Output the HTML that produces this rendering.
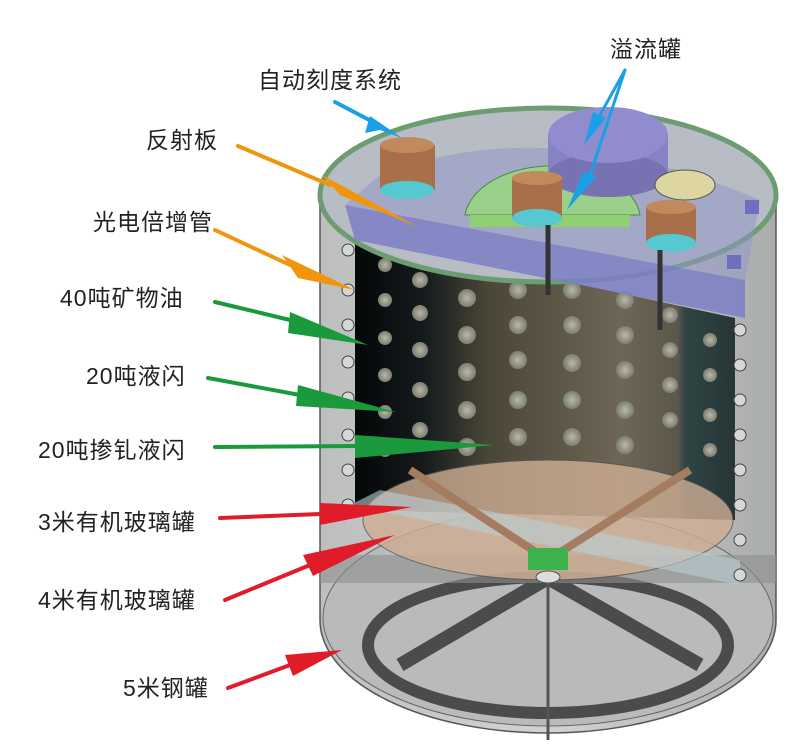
<!DOCTYPE html>
<html><head><meta charset="utf-8"><style>
body{margin:0;background:#fff}
svg{display:block}
text{font-family:"Liberation Sans","Noto Sans CJK SC",sans-serif;font-size:23px;letter-spacing:1px;fill:#222}
</style></head><body>
<svg width="807" height="754" viewBox="0 0 807 754" xmlns="http://www.w3.org/2000/svg">
<defs>
<linearGradient id="wall" x1="0" x2="1"><stop offset="0" stop-color="#bdbfbe"/><stop offset="0.5" stop-color="#d2d3d2"/><stop offset="1" stop-color="#a9acab"/></linearGradient>
<linearGradient id="inner" x1="0" x2="1"><stop offset="0" stop-color="#050708"/><stop offset="0.18" stop-color="#141a1c"/><stop offset="0.35" stop-color="#4a4638"/><stop offset="0.7" stop-color="#6e6656"/><stop offset="0.85" stop-color="#5b574a"/><stop offset="0.87" stop-color="#2f4444"/><stop offset="1" stop-color="#263535"/></linearGradient>
<radialGradient id="dot"><stop offset="0" stop-color="#b9b9a8"/><stop offset="1" stop-color="#7d7d70"/></radialGradient>
</defs>
<path d="M320,195 L320,620 A228,113 0 0 0 776,620 L776,195 Z" fill="url(#wall)" stroke="#555" stroke-width="1.5"/>
<ellipse cx="548" cy="618" rx="225" ry="108" fill="#b9bbba" stroke="#666"/>
<ellipse cx="548" cy="645" rx="180" ry="68" fill="none" stroke="#4a4c4c" stroke-width="12"/>
<g stroke="#4a4c4c" stroke-width="14">
<line x1="548" y1="578" x2="400" y2="665"/><line x1="548" y1="578" x2="700" y2="665"/>
</g>
<rect x="320" y="555" width="456" height="28" fill="#8e9090" opacity="0.6"/>
<line x1="548" y1="578" x2="548" y2="740" stroke="#555" stroke-width="3"/>
<path d="M355,235 L735,318 L735,520 L355,510 Z" fill="url(#inner)"/>
<ellipse cx="548" cy="520" rx="185" ry="60" fill="#cfae94" opacity="0.8" stroke="#555"/>
<path d="M350,505 L740,585 L740,560 L380,490 Z" fill="#b9cfd6" opacity="0.6"/>
<path d="M410,470 L548,560 L690,470" fill="none" stroke="#a57c60" stroke-width="8"/>
<rect x="528" y="548" width="40" height="22" fill="#3cb24a"/>
<ellipse cx="548" cy="577" rx="12" ry="6" fill="#ddd" stroke="#555"/>
<g fill="url(#dot)">
<circle cx="385" cy="265" r="7"/><circle cx="385" cy="300" r="7"/><circle cx="385" cy="338" r="7"/><circle cx="385" cy="375" r="7"/><circle cx="385" cy="412" r="7"/><circle cx="385" cy="450" r="7"/>
<circle cx="420" cy="280" r="8"/><circle cx="420" cy="313" r="8"/><circle cx="420" cy="350" r="8"/><circle cx="420" cy="390" r="8"/><circle cx="420" cy="430" r="8"/>
<circle cx="467" cy="262" r="9"/><circle cx="467" cy="298" r="9"/><circle cx="467" cy="335" r="9"/><circle cx="467" cy="372" r="9"/><circle cx="467" cy="410" r="9"/><circle cx="467" cy="447" r="9"/>
<circle cx="518" cy="290" r="9"/><circle cx="518" cy="325" r="9"/><circle cx="518" cy="360" r="9"/><circle cx="518" cy="400" r="9"/><circle cx="518" cy="437" r="9"/>
<circle cx="572" cy="290" r="9"/><circle cx="572" cy="325" r="9"/><circle cx="572" cy="363" r="9"/><circle cx="572" cy="400" r="9"/><circle cx="572" cy="437" r="9"/>
<circle cx="625" cy="300" r="9"/><circle cx="625" cy="335" r="9"/><circle cx="625" cy="370" r="9"/><circle cx="625" cy="410" r="9"/><circle cx="625" cy="445" r="9"/>
<circle cx="670" cy="315" r="8"/><circle cx="670" cy="350" r="8"/><circle cx="670" cy="385" r="8"/><circle cx="670" cy="420" r="8"/>
<circle cx="710" cy="340" r="7"/><circle cx="710" cy="375" r="7"/><circle cx="710" cy="415" r="7"/><circle cx="710" cy="450" r="7"/>
</g>
<g fill="#d5d8d6" stroke="#444">
<circle cx="348" cy="250" r="6"/><circle cx="348" cy="290" r="6"/><circle cx="348" cy="325" r="6"/><circle cx="348" cy="362" r="6"/><circle cx="348" cy="398" r="6"/><circle cx="348" cy="435" r="6"/><circle cx="348" cy="470" r="6"/><circle cx="348" cy="505" r="6"/>
<circle cx="740" cy="330" r="6"/><circle cx="740" cy="365" r="6"/><circle cx="740" cy="400" r="6"/><circle cx="740" cy="435" r="6"/><circle cx="740" cy="470" r="6"/><circle cx="740" cy="505" r="6"/><circle cx="740" cy="540" r="6"/><circle cx="740" cy="575" r="6"/>
</g>
<ellipse cx="548" cy="195" rx="228" ry="87" fill="#b8bcc4" stroke="#6c9c72" stroke-width="5"/>
<path d="M345,205 L745,280 L745,318 L355,240 Z" fill="#7b7fc4" opacity="0.85"/>
<path d="M380,175 Q548,110 760,200 L745,280 L345,205 Z" fill="#8f93c9" opacity="0.5"/>
<path d="M465,215 A88,55 0 0 1 640,215 Z" fill="#9ad08a" stroke="#4a8a44"/>
<rect x="470" y="215" width="160" height="12" fill="#8fd070"/>
<rect x="548" y="135" width="120" height="40" fill="#8783c3"/>
<ellipse cx="608" cy="175" rx="60" ry="22" fill="#7773b3"/>
<ellipse cx="608" cy="135" rx="60" ry="28" fill="#908cce"/>
<ellipse cx="685" cy="185" rx="30" ry="15" fill="#ddd6a0" stroke="#555"/>
<g>
<rect x="380" y="145" width="55" height="45" fill="#a8704a"/><ellipse cx="407" cy="145" rx="27" ry="8" fill="#c08a5e"/><ellipse cx="407" cy="190" rx="27" ry="9" fill="#55c8d0"/>
<rect x="512" y="178" width="50" height="40" fill="#a8704a"/><ellipse cx="537" cy="178" rx="25" ry="7" fill="#c08a5e"/><ellipse cx="537" cy="218" rx="25" ry="9" fill="#55c8d0"/>
<rect x="646" y="207" width="50" height="36" fill="#a8704a"/><ellipse cx="671" cy="207" rx="25" ry="7" fill="#c08a5e"/><ellipse cx="671" cy="243" rx="25" ry="9" fill="#55c8d0"/>
</g>
<line x1="548" y1="225" x2="548" y2="295" stroke="#333" stroke-width="5"/>
<line x1="660" y1="250" x2="660" y2="330" stroke="#333" stroke-width="5"/>
<rect x="745" y="200" width="14" height="14" fill="#6f6fc0"/><rect x="727" y="255" width="14" height="14" fill="#6f6fc0"/>
<g stroke-linecap="round">
<line x1="335" y1="102" x2="375" y2="123" stroke="#1aa0e6" stroke-width="4"/><polygon points="370,116 402,138 380,130 365,133" fill="#1aa0e6"/>
<line x1="625" y1="70" x2="600" y2="115" stroke="#1aa0e6" stroke-width="3"/><polygon points="593,112 606,118 584,145" fill="#1aa0e6"/>
<line x1="625" y1="70" x2="590" y2="175" stroke="#1aa0e6" stroke-width="3"/><polygon points="583,172 597,176 567,210" fill="#1aa0e6"/>
<line x1="238" y1="146" x2="330" y2="185" stroke="#f0950e" stroke-width="4"/><polygon points="322,175 340,195 418,227" fill="#f0950e"/>
<line x1="215" y1="230" x2="290" y2="265" stroke="#f0950e" stroke-width="4"/><polygon points="282,255 298,278 355,290" fill="#f0950e"/>
<line x1="215" y1="302" x2="290" y2="320" stroke="#1a9a3c" stroke-width="4"/><polygon points="290,312 288,333 368,345" fill="#1a9a3c"/>
<line x1="208" y1="378" x2="300" y2="395" stroke="#1a9a3c" stroke-width="4"/><polygon points="298,385 296,406 396,412" fill="#1a9a3c"/>
<line x1="215" y1="447" x2="355" y2="446" stroke="#1a9a3c" stroke-width="4"/><polygon points="355,435 355,458 495,445" fill="#1a9a3c"/>
<line x1="220" y1="518" x2="320" y2="514" stroke="#e01b2a" stroke-width="4"/><polygon points="320,503 320,525 412,507" fill="#e01b2a"/>
<line x1="225" y1="600" x2="310" y2="565" stroke="#e01b2a" stroke-width="4"/><polygon points="303,555 313,576 395,535" fill="#e01b2a"/>
<line x1="228" y1="688" x2="290" y2="665" stroke="#e01b2a" stroke-width="4"/><polygon points="285,655 293,676 342,650" fill="#e01b2a"/>
</g>
<text x="258" y="88">自动刻度系统</text>
<text x="610" y="57">溢流罐</text>
<text x="146" y="148">反射板</text>
<text x="93" y="230">光电倍增管</text>
<text x="60" y="306">40吨矿物油</text>
<text x="86" y="384">20吨液闪</text>
<text x="38" y="458">20吨掺钆液闪</text>
<text x="38" y="530">3米有机玻璃罐</text>
<text x="38" y="608">4米有机玻璃罐</text>
<text x="123" y="696">5米钢罐</text>
</svg>
</body></html>
